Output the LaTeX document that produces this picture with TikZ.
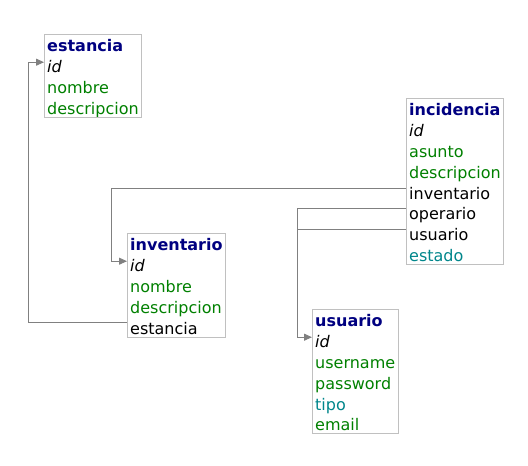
\documentclass[tikz,border=0pt]{standalone}
\usepackage{fontspec}
\setmainfont{DejaVu Sans}
\usepackage{tikz}
\usetikzlibrary{positioning,fit,arrows.meta}

\definecolor{titlecol}{RGB}{0,0,128}
\definecolor{attrcol}{RGB}{0,128,0}
\definecolor{enumcol}{RGB}{0,134,139}
\definecolor{boxcol}{RGB}{192,192,192}
\definecolor{linkcol}{RGB}{128,128,128}

\begin{document}
\begin{tikzpicture}[x=1pt,y=-1pt,node distance=0pt,
  fld/.style={inner xsep=3pt,inner ysep=0pt,text height=17.6pt,text depth=2.8pt,
    font=\fontsize{16pt}{20pt}\selectfont,anchor=north west},
  row/.style={below=of #1.south west,anchor=north west},
  ttl/.style={fld,text=titlecol,font=\fontsize{16pt}{20pt}\selectfont\bfseries},
  key/.style={fld,font=\fontsize{16pt}{20pt}\selectfont\itshape},
  att/.style={fld,text=attrcol},
  enm/.style={fld,text=enumcol},
  tbl/.style={draw=boxcol,line width=1pt,inner sep=0pt},
  fk/.style={draw=linkcol,line width=1pt,-{Triangle[length=8pt,width=7pt]}}]

\useasboundingbox (0,0) rectangle (528,466);

% estancia
\node[ttl] (est-t) at (44,34) {estancia};
\node[key,row=est-t] (est-id) {id};
\node[att,row=est-id] (est-nombre) {nombre};
\node[att,row=est-nombre] (est-descripcion) {descripcion};
\node[tbl,fit=(est-t)(est-id)(est-nombre)(est-descripcion)] (estancia) {};

% incidencia
\node[ttl] (inc-t) at (406,98) {incidencia};
\node[key,row=inc-t] (inc-id) {id};
\node[att,row=inc-id] (inc-asunto) {asunto};
\node[att,row=inc-asunto] (inc-descripcion) {descripcion};
\node[fld,row=inc-descripcion] (inc-inventario) {inventario};
\node[fld,row=inc-inventario] (inc-operario) {operario};
\node[fld,row=inc-operario] (inc-usuario) {usuario};
\node[enm,row=inc-usuario] (inc-estado) {estado};
\node[tbl,fit=(inc-t)(inc-id)(inc-descripcion)(inc-estado)] (incidencia) {};

% inventario
\node[ttl] (inv-t) at (127,233) {inventario};
\node[key,row=inv-t] (inv-id) {id};
\node[att,row=inv-id] (inv-nombre) {nombre};
\node[att,row=inv-nombre] (inv-descripcion) {descripcion};
\node[fld,row=inv-descripcion] (inv-estancia) {estancia};
\node[tbl,fit=(inv-t)(inv-id)(inv-descripcion)(inv-estancia)] (inventario) {};

% usuario
\node[ttl] (usu-t) at (312,309) {usuario};
\node[key,row=usu-t] (usu-id) {id};
\node[att,row=usu-id] (usu-username) {username};
\node[att,row=usu-username] (usu-password) {password};
\node[enm,row=usu-password] (usu-tipo) {tipo};
\node[att,row=usu-tipo] (usu-email) {email};
\node[tbl,fit=(usu-t)(usu-id)(usu-username)(usu-email)] (usuario) {};

% bends of the links
\coordinate (bus-est) at (28,0);
\coordinate (bus-inv) at (111,0);
\coordinate (bus-usu) at (297,0);

\draw[fk] ([yshift=4pt]inv-estancia.west) -- ([yshift=4pt]inv-estancia.west -| bus-est) |- ([yshift=3pt]est-id.west);
\draw[fk] ([yshift=3.5pt]inc-inventario.west) -- ([yshift=3.5pt]inc-inventario.west -| bus-inv) |- ([yshift=3pt]inv-id.west);
\draw[fk] ([yshift=3.5pt]inc-operario.west) -- ([yshift=3.5pt]inc-operario.west -| bus-usu) |- ([yshift=3pt]usu-id.west);
\draw[draw=linkcol,line width=1pt] ([yshift=3.5pt]inc-usuario.west) -- ([yshift=3.5pt]inc-usuario.west -| bus-usu);

\end{tikzpicture}
\end{document}
